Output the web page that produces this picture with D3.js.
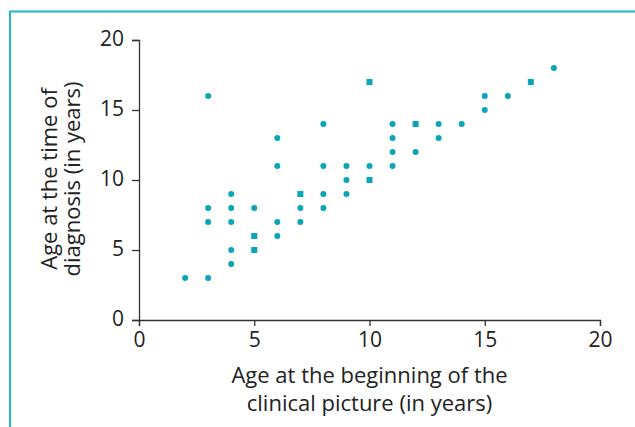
<!DOCTYPE html>
<html>
<head>
<meta charset="utf-8">
<script src="https://cdn.jsdelivr.net/npm/d3@7"></script>
<style>
  body { margin: 0; background: #fff; }
  text { font-family: "Open Sans", "Noto Sans", sans-serif; fill: #222; }
</style>
</head>
<body>
<div id="chart"></div>
<script>
var svgWidth = 635;
var svgHeight = 427;

// onset age (x), diagnosis age (y), marker shape
var onsetAge =     [2, 3, 3, 3, 3, 4, 4, 4, 4, 4, 5, 5, 5, 6, 6, 6, 6, 7, 7, 7, 8, 8, 8, 8, 9, 9, 9, 10, 10, 10, 11, 11, 11, 11, 12, 12, 13, 13, 14, 15, 15, 16, 17, 18];
var diagnosisAge = [3, 3, 7, 8, 16, 4, 5, 7, 8, 9, 5, 6, 8, 6, 7, 11, 13, 7, 8, 9, 8, 9, 11, 14, 9, 10, 11, 10, 11, 17, 11, 12, 13, 14, 12, 14, 13, 14, 14, 15, 16, 16, 17, 18];
var markerShape =  ['c','c','c','c','c','c','c','c','c','c','s','s','c','c','c','c','c','c','c','s','c','c','c','c','c','c','c','s','c','s','c','c','c','c','c','s','c','c','c','c','c','c','s','c'];

var xTicks = [0, 5, 10, 15, 20];
var yTicks = [0, 5, 10, 15, 20];

var margin = { top: 40, right: 35, bottom: 107, left: 139 };
var chartWidth = svgWidth - margin.left - margin.right;
var chartHeight = svgHeight - margin.top - margin.bottom;

var teal = '#0aa5b8';

var svg = d3.select('#chart').append('svg')
    .attr('width', svgWidth)
    .attr('height', svgHeight);

// frame round the figure
svg.append('path')
    .attr('d', 'M10,' + svgHeight + ' V11.5 H' + svgWidth)
    .attr('fill', 'none')
    .attr('stroke', '#27b6c8')
    .attr('stroke-width', 2);

var chartGroup = svg.append('g')
    .attr('transform', `translate(${margin.left}, ${margin.top})`);

var xScale = d3.scaleLinear().domain([0, 20]).range([0, chartWidth]);
var yScale = d3.scaleLinear().domain([0, 20]).range([chartHeight, 0]);

var xAxis = chartGroup.append('g')
    .attr('transform', `translate(0, ${chartHeight})`)
    .call(d3.axisBottom(xScale).tickValues(xTicks).tickSize(6).tickPadding(6));

var yAxis = chartGroup.append('g')
    .call(d3.axisLeft(yScale).tickValues(yTicks).tickSize(7).tickPadding(8));

[xAxis, yAxis].forEach(function(ax) {
    ax.selectAll('path, line').attr('stroke', '#333').attr('stroke-width', 1.3);
    ax.selectAll('text').attr('font-size', '21px').attr('fill', '#222')
        .attr('font-family', '"Open Sans", "Noto Sans", sans-serif');
});
yAxis.selectAll('text').attr('dy', '0.28em');

var data = onsetAge.map(function(x, i) {
    return { x: x, y: diagnosisAge[i], shape: markerShape[i] };
});

chartGroup.selectAll('.dot')
    .data(data.filter(d => d.shape === 'c'))
    .enter()
    .append('circle')
    .attr('cx', d => xScale(d.x))
    .attr('cy', d => yScale(d.y))
    .attr('r', 3)
    .attr('fill', teal);

chartGroup.selectAll('.sq')
    .data(data.filter(d => d.shape === 's'))
    .enter()
    .append('rect')
    .attr('x', d => xScale(d.x) - 3)
    .attr('y', d => yScale(d.y) - 3)
    .attr('width', 6)
    .attr('height', 6)
    .attr('fill', teal);

// x axis title
var xTitle = chartGroup.append('text')
    .attr('text-anchor', 'middle')
    .attr('font-size', '22px')
    .attr('transform', `translate(${chartWidth / 2}, ${chartHeight + 63})`);
xTitle.append('tspan').attr('x', 0).attr('y', 0).text('Age at the beginning of the');
xTitle.append('tspan').attr('x', 0).attr('y', 28).text('clinical picture (in years)');

// y axis title
var yTitle = chartGroup.append('text')
    .attr('text-anchor', 'middle')
    .attr('font-size', '22px')
    .attr('transform', `translate(-82, ${chartHeight / 2 - 1}) rotate(-90)`);
yTitle.append('tspan').attr('x', 0).attr('y', 0).text('Age at the time of');
yTitle.append('tspan').attr('x', 0).attr('y', 23).text('diagnosis (in years)');
</script>
</body>
</html>
